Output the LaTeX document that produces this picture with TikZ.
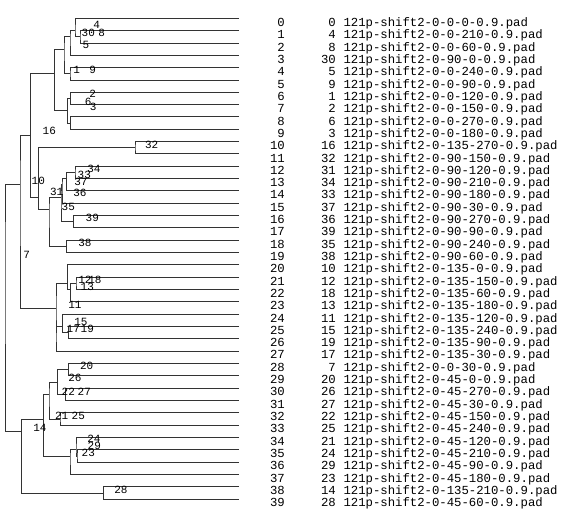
\documentclass[tikz,border=0pt]{standalone}
\usepackage{fontspec}
\newfontfamily\tabfont{Liberation Mono}
\begin{document}
\begin{tikzpicture}[x=1pt,y=-1pt,
  declare function={ry(\r)=18.3+12.33*\r; bl(\r)=26.6+12.31*\r;},
  branch/.style={draw=black!80, line width=0.9pt},
  lbl/.style={inner sep=0pt, font={\tabfont\fontsize{11}{12}\selectfont}},
  idx/.style={anchor=base east, inner sep=0pt, font={\tabfont\fontsize{12.3}{14}\selectfont}},
  fname/.style={anchor=base west, inner sep=0pt, font={\tabfont\fontsize{12.3}{14}\selectfont}}]
\useasboundingbox (0,0) rectangle (566,514);
% leaves
\foreach \i in {0,...,39} \coordinate (L\i) at (239,{ry(\i)});
% internal nodes
\coordinate (a1) at (80,{ry(1.5)});
\coordinate (a2) at (75,{ry(1)});
\coordinate (a3) at (70,{ry(1.5)});
\coordinate (a4) at (70,{ry(4.5)});
\coordinate (a5) at (64,{ry(2.5)});
\coordinate (b1) at (70.7,{ry(6.5)});
\coordinate (b2) at (70.7,{ry(8.5)});
\coordinate (b3) at (67.5,{ry(7.5)});
\coordinate (c16) at (54.3,{ry(4.5)});
\coordinate (c32) at (135,{ry(10.5)});
\coordinate (cd) at (75,{ry(12.5)});
\coordinate (ce) at (66.7,{ry(13)});
\coordinate (cf) at (62,{ry(13.5)});
\coordinate (c39) at (73.3,{ry(16.5)});
\coordinate (ca) at (61,{ry(14.5)});
\coordinate (c38) at (66.7,{ry(18.5)});
\coordinate (c31) at (49,{ry(15.5)});
\coordinate (c10) at (38.3,{ry(14.5)});
\coordinate (N1) at (30.7,{ry(9.5)});
\coordinate (ch) at (76,{ry(21.5)});
\coordinate (cj) at (70.7,{ry(22)});
\coordinate (cg) at (67.3,{ry(21.5)});
\coordinate (c19) at (68.3,{ry(25.5)});
\coordinate (c15) at (62.3,{ry(25)});
\coordinate (cM) at (56,{ry(25.5)});
\coordinate (N2) at (56,{ry(23.5)});
\coordinate (N12) at (20,{ry(13.5)});
\coordinate (cu) at (68.3,{ry(28.5)});
\coordinate (ct) at (65.7,{ry(30.5)});
\coordinate (cs) at (57.5,{ry(29.5)});
\coordinate (c21) at (60,{ry(32.5)});
\coordinate (cm) at (49,{ry(30.5)});
\coordinate (cr) at (77,{ry(35.5)});
\coordinate (cq) at (76,{ry(35)});
\coordinate (cn) at (70,{ry(35.5)});
\coordinate (c14) at (43.3,{ry(32.5)});
\coordinate (c28) at (103.3,{ry(38.5)});
\coordinate (N3) at (21.7,{ry(33.5)});
\coordinate (root) at (5,{ry(19.5)});
% brackets
\foreach \p/\u/\v in {a1/L1/L2, a2/L0/a1, a3/a2/L3, a4/L4/L5, a5/a3/a4,
  b1/L6/L7, b2/L8/L9, b3/b1/b2, c16/a5/b3,
  c32/L10/L11, cd/L12/L13, ce/cd/L14, cf/ce/L15, c39/L16/L17, ca/cf/c39,
  c38/L18/L19, c31/ca/c38, c10/c32/c31, N1/c16/c10,
  ch/L21/L22, cj/ch/L23, cg/L20/cj, c19/L25/L26, c15/L24/c19, cM/c15/L27,
  N2/cg/cM, N12/N1/N2,
  cu/L28/L29, ct/L30/L31, cs/cu/ct, c21/L32/L33, cm/cs/c21,
  cr/L35/L36, cq/L34/cr, cn/cq/L37, c14/cm/cn, c28/L38/L39, N3/c14/c28,
  root/N12/N3}
  \draw[branch] (\u) -| (\p) |- (\v);
% tree labels
\foreach \t/\x/\y [count=\k] in {4/96.7/25, 30/88.3/33.3, 8/101.7/33.3, 5/86/45,
  1/76.7/70, 9/92.7/70, 2/92.7/94, 6/88.3/102.3, 3/93.3/107.3, 16/49.3/131,
  32/151.7/145, 10/38.3/180.7, 34/94/169.3, 33/84.3/175, 37/81/181.7,
  36/80/192.7, 31/56.7/192.3, 35/68.3/206.7, 39/92.3/218.3, 38/85/243.3,
  7/26.7/255, 12/85/279.5, 18/95/279.5, 13/87.3/286.7, 11/75/305,
  15/81/321.7, 17/73.3/329.3, 19/87.3/329.3, 20/86.7/366, 26/75/378.3,
  22/68.3/391.7, 27/84.3/391.7, 21/61.7/416, 25/78.3/416, 14/40/428.3,
  24/94/439.3, 29/94.3/446, 23/88.3/453.3, 28/121/490}
  \node[lbl] (lab\k) at (\x,\y) {\t};
% table
\foreach \i/\n/\f in {0/0/0-0, 1/4/0-210, 2/8/0-60, 3/30/90-0, 4/5/0-240,
  5/9/0-90, 6/1/0-120, 7/2/0-150, 8/6/0-270, 9/3/0-180, 10/16/135-270,
  11/32/90-150, 12/31/90-120, 13/34/90-210, 14/33/90-180, 15/37/90-30,
  16/36/90-270, 17/39/90-90, 18/35/90-240, 19/38/90-60, 20/10/135-0,
  21/12/135-150, 22/18/135-60, 23/13/135-180, 24/11/135-120, 25/15/135-240,
  26/19/135-90, 27/17/135-30, 28/7/0-30, 29/20/45-0, 30/26/45-270,
  31/27/45-30, 32/22/45-150, 33/25/45-240, 34/21/45-120, 35/24/45-210,
  36/29/45-90, 37/23/45-180, 38/14/135-210, 39/28/45-60} {
  \node[idx] (idx\i) at (285,{bl(\i)}) {\i};
  \node[idx] (num\i) at (336,{bl(\i)}) {\n};
  \node[fname] (fn\i) at (343.3,{bl(\i)}) {121p-shift2-0-\f-0.9.pad};
}
\end{tikzpicture}
\end{document}
